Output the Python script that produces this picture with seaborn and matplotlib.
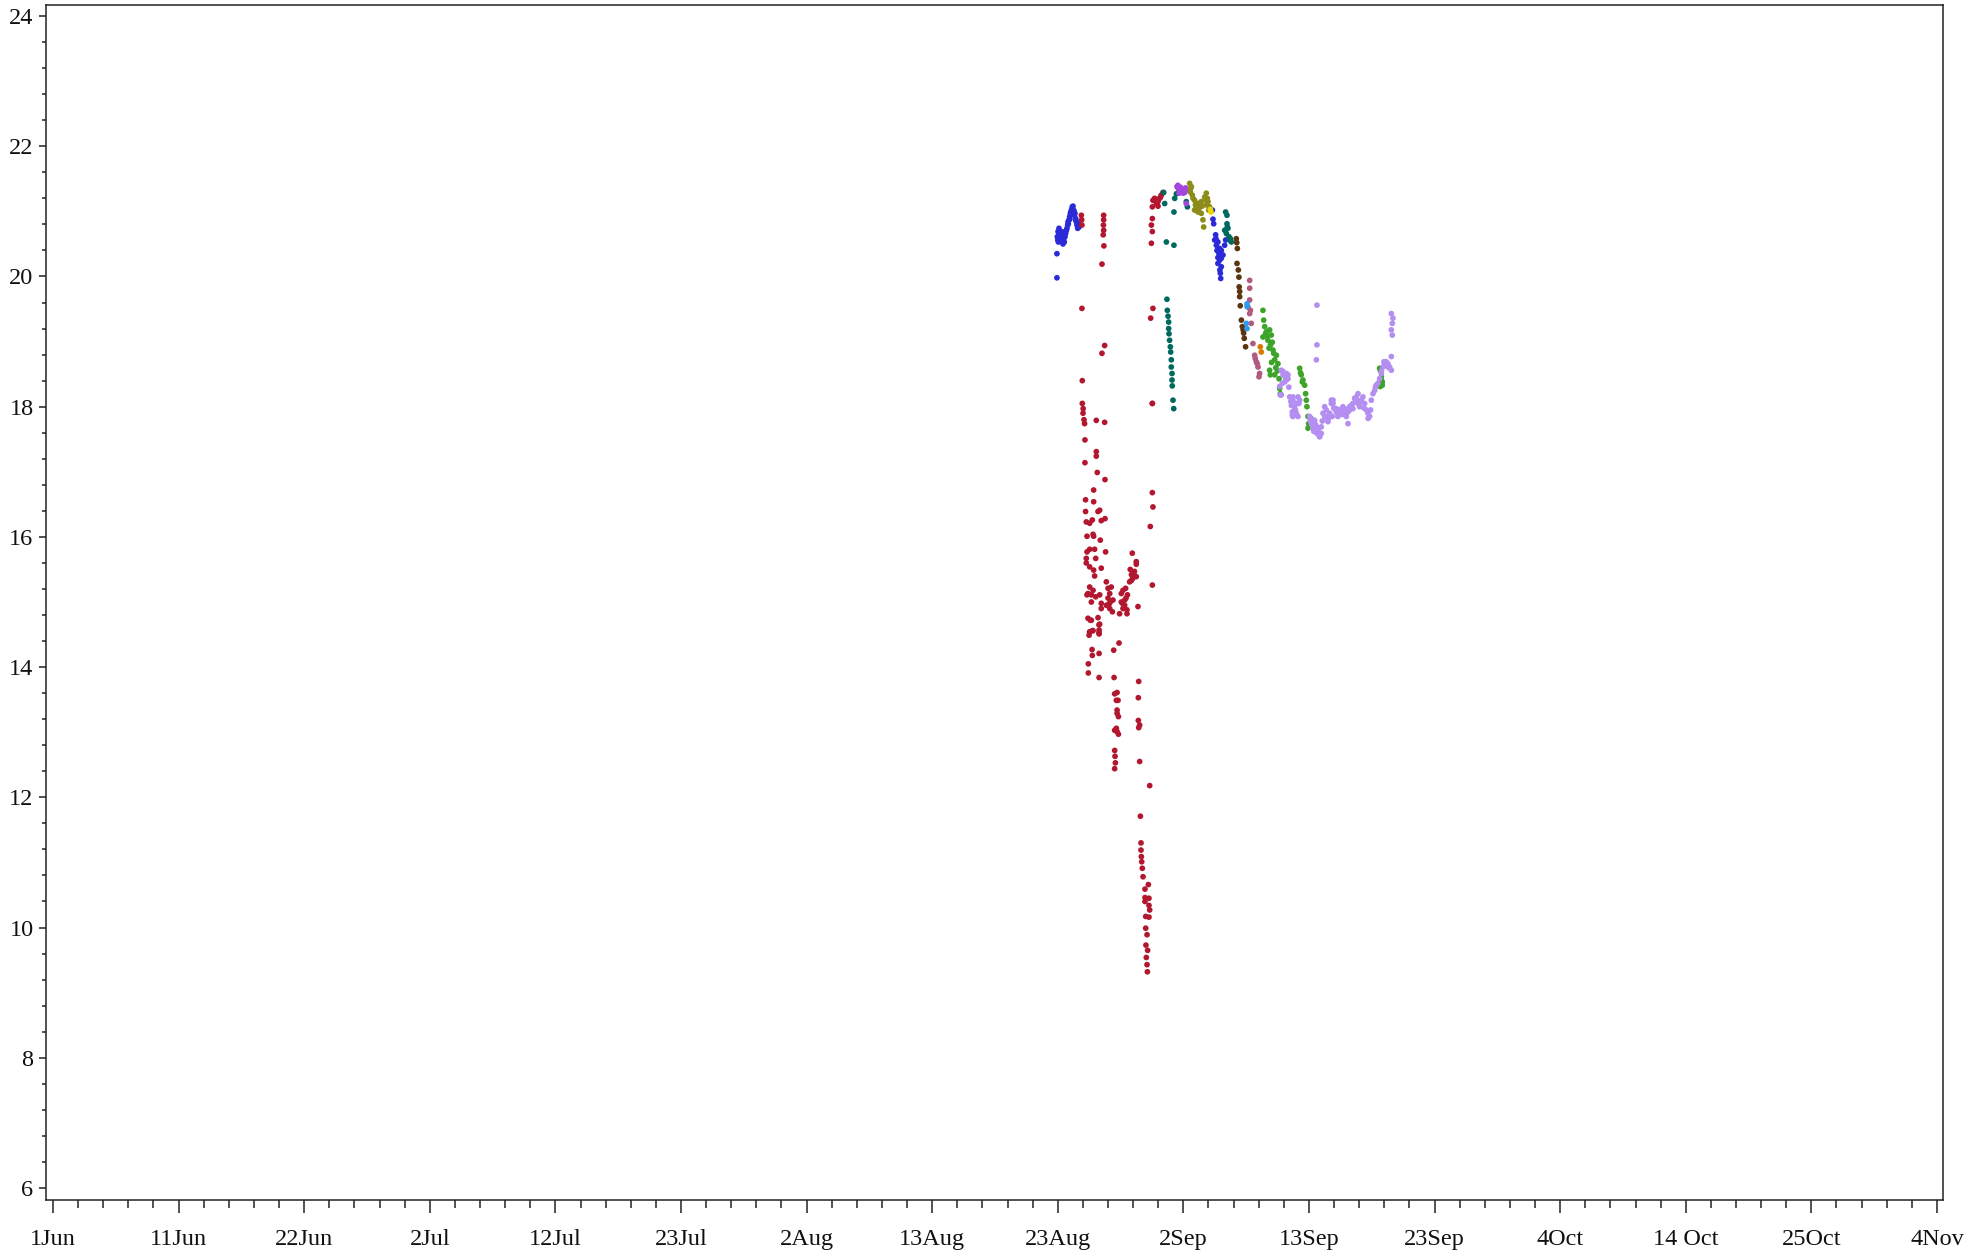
import matplotlib
matplotlib.use("Agg")
import matplotlib.pyplot as plt
import seaborn as sns
import pandas as pd
from matplotlib.ticker import FixedLocator, MultipleLocator

# x values are days since 1 Jun; y values are the measured quantity
blue_x = [83.13, 83.13, 83.16, 83.22, 83.25, 83.30, 83.36, 83.41, 83.47, 83.52, 83.58, 83.63, 83.69, 83.74,
          83.80, 83.85, 83.91, 83.96, 84.02, 84.07, 84.13, 84.18, 84.24, 84.29, 84.35, 84.40, 84.46, 84.51,
          84.57, 84.62, 84.68, 84.74, 84.79, 84.85, 84.90, 84.96,
          83.20, 83.28, 83.45, 83.55, 83.72, 83.88, 84.05, 84.20, 84.38, 84.55, 84.70, 84.88,
          96.00, 96.05, 96.11, 96.27, 96.19, 96.33, 96.46, 96.60, 96.74, 96.38, 96.55, 96.46, 96.60, 96.74,
          96.88, 96.46, 96.74, 96.66, 96.69, 97.02, 97.10, 96.30, 96.52, 96.70, 96.62]
blue_y = [20.35, 19.98, 20.61, 20.69, 20.53, 20.74, 20.61, 20.66, 20.56, 20.69, 20.63, 20.50, 20.58, 20.53,
          20.61, 20.66, 20.71, 20.74, 20.79, 20.81, 20.87, 20.92, 20.97, 21.00, 21.03, 21.07, 21.08, 21.02,
          20.94, 20.97, 20.89, 20.84, 20.79, 20.74, 20.81, 20.76,
          20.56, 20.64, 20.62, 20.58, 20.66, 20.70, 20.84, 20.88, 20.99, 21.00, 20.86, 20.78,
          21.02, 20.88, 20.81, 20.64, 20.56, 20.48, 20.53, 20.43, 20.40, 20.40, 20.35, 20.29, 20.25, 20.28,
          20.33, 20.20, 20.15, 20.05, 19.97, 20.48, 20.56, 20.58, 20.38, 20.32, 20.10]

red_x = [85.15, 85.18, 85.20, 85.20, 87.00, 87.00, 86.98, 87.00, 86.96, 87.02, 86.86, 87.08, 86.86,
         91.08, 91.22, 91.36, 91.50, 91.64, 91.77, 91.91, 91.03, 91.50, 91.03, 90.95, 91.03, 90.95,
         91.08, 90.89, 91.03,
         85.23, 85.23, 85.30, 85.29, 85.37, 85.42, 86.39, 87.08, 85.45, 86.39, 86.39, 85.45, 86.47, 87.11,
         86.17, 91.03, 85.50, 85.50, 85.56, 86.17, 86.53, 86.67, 86.80, 87.11, 85.84, 86.06, 85.62, 86.12,
         86.17, 86.72, 91.03, 91.08, 90.86, 85.62, 85.84, 86.25, 87.16, 85.56, 85.56, 85.84, 86.17, 86.80,
         86.34, 86.25, 89.37, 89.70, 89.70, 89.20, 89.48, 89.29, 89.70, 89.15, 85.84, 86.12, 85.70, 85.98,
         86.34, 86.67, 87.22, 87.36, 87.63, 87.50, 87.36, 87.55, 87.77, 88.60, 88.82, 88.46, 88.97, 88.74,
         88.46, 88.74, 88.60, 88.93, 88.93, 88.32, 87.22, 87.50, 87.72, 86.80, 86.80, 85.98, 85.62, 89.84,
         91.03, 85.70, 85.98, 86.53, 85.84, 86.12, 86.61, 86.61,
         85.90, 86.67, 86.62, 86.62, 85.84, 86.06, 85.79, 88.27, 86.04, 86.06, 86.62, 87.83, 85.73, 85.73,
         86.62, 87.86, 89.90, 89.87, 87.91, 88.11, 88.19, 88.05, 88.11, 88.11, 88.22, 89.87, 89.98, 89.90,
         88.05, 88.11, 88.22, 87.91, 87.91, 87.94, 87.97, 87.91, 89.98, 90.81, 90.04, 90.09, 90.09, 90.12,
         90.15, 90.20, 90.26, 90.70, 90.42, 90.42, 90.75, 90.42, 90.75, 90.81, 90.48, 90.75, 90.48, 90.59,
         90.50, 90.64, 90.53, 90.59, 90.62,
         89.30, 89.55, 89.40, 88.55, 88.85, 87.45, 91.30, 91.70]
red_y = [20.94, 20.87, 20.79, 19.51, 20.94, 20.87, 20.79, 20.71, 20.64, 20.47, 20.19, 18.94, 18.82,
         21.17, 21.20, 21.12, 21.15, 21.20, 21.25, 21.29, 21.07, 21.08, 20.89, 20.79, 20.69, 20.51,
         19.51, 19.36, 18.05,
         18.40, 18.05, 17.97, 17.90, 17.80, 17.74, 17.79, 17.76, 17.49, 17.31, 17.24, 17.14, 16.99, 16.88,
         16.72, 18.05, 16.57, 16.39, 16.23, 16.54, 16.39, 16.41, 16.25, 16.28, 16.21, 16.26, 16.01, 16.04,
         16.01, 15.95, 16.68, 16.46, 16.16, 15.77, 15.81, 15.81, 15.77, 15.67, 15.60, 15.54, 15.49, 15.52,
         15.67, 15.40, 15.75, 15.62, 15.58, 15.50, 15.44, 15.33, 15.39, 15.31, 15.23, 15.18, 15.13, 15.11,
         15.08, 15.11, 15.31, 15.21, 15.23, 15.13, 15.06, 15.00, 15.03, 15.18, 15.21, 15.13, 15.11, 15.03,
         15.00, 14.95, 14.90, 14.88, 14.82, 14.82, 14.95, 14.90, 14.85, 14.98, 14.90, 15.00, 15.11, 14.93,
         15.26, 14.75, 14.72, 14.76, 14.54, 14.56, 14.65, 14.53,
         14.72, 14.66, 14.57, 14.51, 14.54, 14.56, 14.49, 14.37, 14.27, 14.18, 14.21, 14.26, 14.05, 13.91,
         13.84, 13.84, 13.78, 13.53, 13.59, 13.61, 13.49, 13.49, 13.34, 13.29, 13.24, 13.18, 13.11, 13.07,
         13.06, 13.01, 12.97, 13.03, 12.72, 12.63, 12.53, 12.44, 12.55, 12.18, 11.71, 11.30, 11.19, 11.09,
         11.01, 10.91, 10.78, 10.66, 10.59, 10.46, 10.45, 10.40, 10.34, 10.27, 10.17, 10.16, 9.99, 9.89,
         9.73, 9.65, 9.54, 9.43, 9.32,
         15.42, 15.47, 15.36, 14.98, 15.06, 14.97, 21.18, 21.22]

teal_x = [91.97, 92.05, 92.88, 93.02, 93.84, 93.93, 92.82, 92.19, 92.82,
          92.24, 92.27, 92.33, 92.38, 92.38, 92.41, 92.46, 92.52, 92.55, 92.60, 92.60, 92.66, 92.66,
          92.68, 92.74, 92.80,
          97.10, 97.21, 97.21, 97.02, 97.29, 97.16, 97.38, 97.43, 97.57, 97.24, 97.50]
teal_y = [21.29, 21.12, 21.20, 21.27, 21.15, 21.07, 20.99, 20.53, 20.48,
          19.65, 19.48, 19.39, 19.30, 19.20, 19.12, 19.02, 18.92, 18.84, 18.72, 18.61, 18.51, 18.41,
          18.32, 18.10, 17.97,
          20.99, 20.94, 20.81, 20.71, 20.74, 20.66, 20.61, 20.56, 20.53, 20.76, 20.58]

purple_x = [93.15, 93.29, 93.43, 93.57, 93.71, 93.84, 93.24, 93.84, 93.07, 93.20, 93.36, 93.50, 93.78]
purple_y = [21.40, 21.35, 21.30, 21.28, 21.29, 21.33, 21.28, 21.12, 21.38, 21.34, 21.37, 21.32, 21.36]

olive_x = [94.12, 94.26, 94.17, 94.34, 94.53, 94.67, 94.81, 94.95, 95.08, 95.22, 95.28, 95.36, 95.50,
           95.64, 95.77, 95.50, 95.08, 94.53, 94.81, 94.20, 94.40, 94.60, 94.88, 95.15, 95.42, 95.58, 95.70]
olive_y = [21.43, 21.38, 21.30, 21.25, 21.17, 21.07, 20.99, 21.07, 21.15, 20.87, 20.76, 21.22, 21.28,
           21.15, 21.07, 21.10, 20.97, 21.02, 21.12, 21.35, 21.20, 21.10, 21.04, 21.08, 21.18, 21.20, 21.02]

yellow_x = [95.83, 95.89]
yellow_y = [21.03, 20.99]

brown_x = [97.98, 98.07, 98.04, 98.15, 98.20, 98.26, 98.26, 98.31, 98.40, 98.48, 98.59, 98.64, 98.75,
           98.02, 98.22, 98.55]
brown_y = [20.58, 20.43, 20.20, 20.10, 19.99, 19.77, 19.69, 19.55, 19.33, 19.23, 19.13, 19.05, 18.92,
           20.52, 19.84, 19.18]

mauve_x = [99.09, 99.09, 99.09, 98.95, 99.09, 99.22, 99.36, 99.50, 99.64, 99.78, 99.91, 99.86,
           99.15, 99.55, 99.72]
mauve_y = [19.94, 19.82, 19.64, 19.53, 19.43, 19.28, 18.97, 18.79, 18.69, 18.61, 18.51, 18.46,
           19.48, 18.74, 18.66]

lightblue_x = [98.87, 98.87, 98.81, 98.87]
lightblue_y = [19.58, 19.54, 19.28, 19.20]

orange_x = [99.97, 100.05]
orange_y = [18.92, 18.84]

green_x = [100.19, 100.25, 100.33, 100.47, 100.74, 100.88, 100.19, 100.60, 100.96, 100.69, 101.02,
           101.30, 101.16, 101.43, 100.74, 101.16, 101.52, 100.80, 101.57, 101.63,
           103.23, 103.36, 103.50, 103.64, 103.72, 103.78, 103.83, 103.92, 103.97, 103.92,
           109.99, 110.07, 109.90, 109.85, 109.99, 110.07, 109.90,
           100.40, 100.55, 100.82, 101.08, 101.25, 101.38, 100.90, 103.30, 103.45]
green_y = [19.48, 19.33, 19.23, 19.15, 19.18, 19.10, 19.07, 19.02, 18.99, 18.90, 18.87,
           18.79, 18.72, 18.66, 18.56, 18.49, 18.43, 18.49, 18.28, 18.20,
           18.59, 18.49, 18.41, 18.33, 18.20, 18.10, 18.00, 17.85, 17.74, 17.67,
           18.41, 18.33, 18.56, 18.59, 18.46, 18.38, 18.31,
           19.12, 19.08, 18.95, 18.82, 18.60, 18.55, 18.68, 18.52, 18.38]

lav_x = [101.71, 101.85, 102.12, 102.26, 101.99, 101.57, 101.71, 102.40, 102.67, 102.54, 102.81, 102.62,
         102.95, 102.67, 103.09, 103.17, 104.05, 104.19, 104.47, 104.61, 104.74, 104.88, 104.33, 104.66,
         105.02, 105.16, 105.30, 105.43, 105.57, 105.71, 105.85, 105.99, 106.12, 106.26, 106.40, 106.54,
         106.68, 106.81, 106.95, 107.09, 107.23, 107.37, 107.64, 107.78, 107.92, 108.06, 108.19, 108.33,
         108.47, 108.61, 108.75, 108.88, 109.02, 109.16, 109.30, 109.44, 109.57, 109.71, 109.85, 109.99,
         110.13, 110.26, 110.40, 110.54, 110.68, 110.82, 110.21,
         110.82, 110.95, 110.90, 110.82, 110.90, 110.82, 104.66, 104.66, 104.61,
         101.85, 102.12, 102.26, 101.79, 101.62, 102.67, 102.95, 102.81, 103.23, 103.09, 102.62, 104.19,
         104.47, 104.74, 105.02, 104.33, 104.88, 105.30, 105.43, 105.85, 105.99, 106.26, 106.54, 105.57,
         105.93, 107.09, 107.37, 107.64, 107.92, 108.06, 107.23,
         102.05, 102.33, 102.50, 102.88, 104.10, 104.40, 104.55, 104.80, 105.10, 105.65, 106.05, 106.35,
         106.75, 107.00, 107.50, 108.25, 108.55, 108.90, 109.10, 109.50, 110.00, 110.30, 110.60]
lav_y = [18.56, 18.49, 18.51, 18.43, 18.38, 18.31, 18.18, 18.15, 18.10, 18.02, 18.00, 17.92,
         17.90, 17.85, 18.15, 18.05, 17.85, 17.74, 17.79, 17.69, 17.64, 17.54, 17.67, 17.59,
         17.69, 17.90, 18.00, 17.85, 17.79, 17.90, 18.10, 18.05, 17.97, 17.92, 17.85, 17.95,
         17.95, 18.00, 17.97, 17.90, 17.92, 18.00, 18.05, 18.13, 18.15, 18.05, 18.00, 18.10,
         18.15, 18.05, 17.95, 17.90, 17.85, 18.10, 18.20, 18.25, 18.33, 18.36, 18.43, 18.51,
         18.61, 18.66, 18.69, 18.66, 18.61, 18.56, 18.69,
         19.43, 19.36, 19.28, 19.18, 19.10, 18.77, 19.56, 18.95, 18.72,
         18.54, 18.41, 18.49, 18.36, 18.18, 18.15, 18.05, 17.95, 18.10, 17.85, 17.87, 17.82,
         17.74, 17.67, 17.59, 17.67, 17.54, 17.85, 17.95, 18.05, 18.10, 17.97, 17.95, 17.77,
         17.85, 17.85, 17.95, 17.97, 18.10, 18.20, 17.74,
         18.45, 18.30, 18.08, 17.95, 17.78, 17.62, 17.72, 17.60, 17.78, 17.83, 17.98, 17.90,
         17.88, 17.92, 18.02, 18.07, 17.98, 17.82, 17.95, 18.30, 18.55, 18.63, 18.60]

series_names = ["blue", "red", "teal", "purple", "olive", "yellow", "brown", "mauve",
                "lightblue", "orange", "green", "lavender"]
series_colors = ["#2a2ad8", "#b3172f", "#00695e", "#a445dd", "#8c8c1a", "#e8d800", "#5a3510",
                 "#b05a80", "#2e9bf0", "#d87a00", "#3ca428", "#b48ef0"]
series_data = [(blue_x, blue_y), (red_x, red_y), (teal_x, teal_y), (purple_x, purple_y),
               (olive_x, olive_y), (yellow_x, yellow_y), (brown_x, brown_y), (mauve_x, mauve_y),
               (lightblue_x, lightblue_y), (orange_x, orange_y), (green_x, green_y), (lav_x, lav_y)]

tick_days = [0, 10.4, 20.8, 31.2, 41.6, 52.0, 62.4, 72.8, 83.2, 93.6, 104.0, 114.4, 124.8, 135.2, 145.6, 156.0]
tick_labels = ["1Jun", "11Jun", "22Jun", "2Jul", "12Jul", "23Jul", "2Aug", "13Aug", "23Aug", "2Sep",
               "13Sep", "23Sep", "4Oct", "14 Oct", "25Oct", "4Nov"]
y_ticks = [6, 8, 10, 12, 14, 16, 18, 20, 22, 24]

frames = []
for name, (xs, ys) in zip(series_names, series_data):
    frames.append(pd.DataFrame({"day": xs, "value": ys, "series": name}))
df = pd.concat(frames, ignore_index=True)

sns.set_style("ticks")
plt.rcParams["font.family"] = ["Liberation Serif", "DejaVu Serif"]

fig = plt.figure(figsize=(19.71, 12.54), dpi=100)
ax = fig.add_axes([46 / 1971, 1 - 1200 / 1254, (1943 - 46) / 1971, (1200 - 5) / 1254])

sns.scatterplot(data=df, x="day", y="value", hue="series", hue_order=series_names,
                palette=dict(zip(series_names, series_colors)), s=17, linewidth=0,
                marker="o", legend=False, ax=ax)

ax.set_xlim(-0.58, 156.5)
ax.set_ylim(5.815, 24.17)
ax.xaxis.set_major_locator(FixedLocator(tick_days))
ax.set_xticklabels(tick_labels)
ax.xaxis.set_minor_locator(MultipleLocator(2.08))
ax.set_yticks(y_ticks)
ax.set_yticklabels([str(v) for v in y_ticks])
ax.yaxis.set_minor_locator(MultipleLocator(0.4))
ax.set_xlabel("")
ax.set_ylabel("")

for side in ["left", "right", "top", "bottom"]:
    ax.spines[side].set_visible(True)
    ax.spines[side].set_linewidth(1.1)
    ax.spines[side].set_color("#222222")

ax.tick_params(axis="x", which="major", direction="out", length=9, width=1.1, pad=12,
               labelsize=17.5, colors="#222222")
ax.tick_params(axis="x", which="minor", direction="out", length=5.5, width=1.1, colors="#222222")
ax.tick_params(axis="y", which="major", direction="out", length=5, width=1.1, pad=4,
               labelsize=17.5, colors="#222222")
ax.tick_params(axis="y", which="minor", direction="out", length=3, width=1.1, colors="#222222")
for lbl in ax.get_xticklabels() + ax.get_yticklabels():
    lbl.set_color("#111111")

fig.savefig("out.png", dpi=100)
